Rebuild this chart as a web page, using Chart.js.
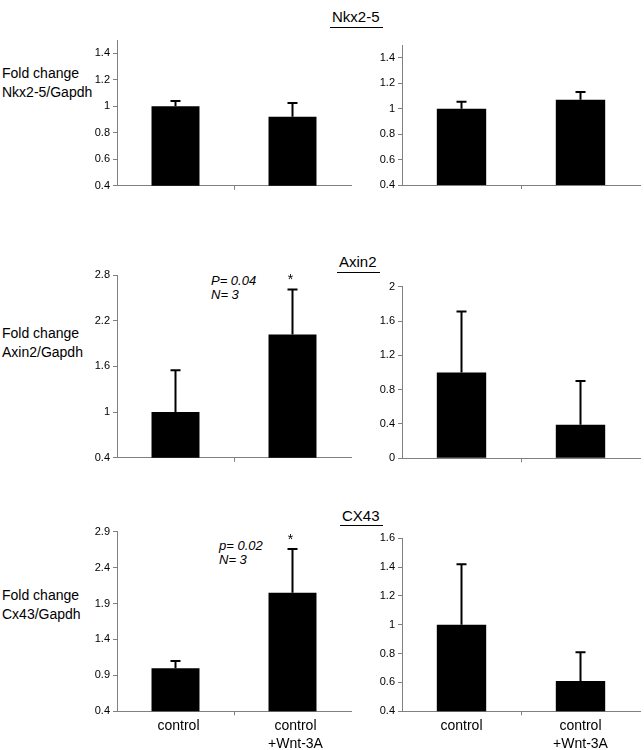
<!DOCTYPE html>
<html>
<head>
<meta charset="utf-8">
<script src="https://cdn.jsdelivr.net/npm/chart.js@4.4.1/dist/chart.umd.min.js"></script>
<style>
  body { margin: 0; background: #fff; font-family: "Liberation Sans", Arial, sans-serif; }
  #wrap { position: relative; width: 644px; height: 750px; overflow: hidden; }
  canvas { position: absolute; left: 0; top: 0; }
  .ylab { position: absolute; left: 2px; font-size: 14px; line-height: 18.5px; white-space: nowrap; }
  .title { position: absolute; font-size: 15px; line-height: 15px; padding: 0 3px 3px 2px; border-bottom: 1px solid #000; }
  .note { position: absolute; font-size: 13px; line-height: 14px; font-style: italic; white-space: nowrap; }
</style>
</head>
<body>
<div id="wrap">
  <div class="title" style="left:330px; top:9px;">Nkx2-5</div>
  <div class="title" style="left:337px; top:254px;">Axin2</div>
  <div class="title" style="left:340px; top:508px; padding-bottom:2px;">CX43</div>

  <div class="ylab" style="top:64px;">Fold change<br>Nkx2-5/Gapdh</div>
  <div class="ylab" style="top:324px;">Fold change<br>Axin2/Gapdh</div>
  <div class="ylab" style="top:586px;">Fold change<br>Cx43/Gapdh</div>

  <div class="note" style="left:211px; top:274px;">P= 0.04<br>N= 3</div>
  <div class="note" style="left:219px; top:539px;">p= 0.02<br>N= 3</div>
</div>

<script>
// categories
const groups = ["control", ["control", "+Wnt-3A"]];

// Nkx2-5
const nkxLeftMeans = [1.0, 0.92];
const nkxLeftErrors = [0.04, 0.105];
const nkxLeftTicks = [0.4, 0.6, 0.8, 1, 1.2, 1.4];
const nkxRightMeans = [1.0, 1.07];
const nkxRightErrors = [0.055, 0.06];
const nkxRightTicks = [0.4, 0.6, 0.8, 1, 1.2, 1.4];

// Axin2
const axinLeftMeans = [1.0, 2.02];
const axinLeftErrors = [0.55, 0.59];
const axinLeftTicks = [0.4, 1, 1.6, 2.2, 2.8];
const axinRightMeans = [1.0, 0.39];
const axinRightErrors = [0.71, 0.51];
const axinRightTicks = [0, 0.4, 0.8, 1.2, 1.6, 2];

// CX43
const cxLeftMeans = [1.0, 2.05];
const cxLeftErrors = [0.10, 0.61];
const cxLeftTicks = [0.4, 0.9, 1.4, 1.9, 2.4, 2.9];
const cxRightMeans = [1.0, 0.61];
const cxRightErrors = [0.42, 0.20];
const cxRightTicks = [0.4, 0.6, 0.8, 1, 1.2, 1.4, 1.6];

// significance marks
const axinLeftStars = [false, true];
const cxLeftStars = [false, true];

const grey = "#808080";
Chart.defaults.font.family = '"Liberation Sans", Arial, sans-serif';
Chart.defaults.color = "#000";

// draws the error bars (and the asterisk) from the y scale
const errorBarPlugin = {
  id: "errorBars",
  afterDatasetsDraw(chart, args, opts) {
    const ctx = chart.ctx;
    const y = chart.scales.y;
    const values = chart.data.datasets[0].data;
    ctx.save();
    ctx.strokeStyle = "#000";
    ctx.fillStyle = "#000";
    ctx.lineWidth = 2;
    ctx.font = '14px "Liberation Sans", Arial, sans-serif';
    ctx.textAlign = "center";
    chart.getDatasetMeta(0).data.forEach((bar, i) => {
      const top = y.getPixelForValue(values[i] + opts.errors[i]);
      ctx.beginPath();
      ctx.moveTo(bar.x, bar.y);
      ctx.lineTo(bar.x, top);
      ctx.moveTo(bar.x - 5, top);
      ctx.lineTo(bar.x + 5, top);
      ctx.stroke();
      if (opts.stars && opts.stars[i]) {
        ctx.fillText("*", bar.x - 2, top - 5);
      }
    });
    ctx.restore();
  }
};

const panels = [
  { means: nkxLeftMeans, errors: nkxLeftErrors, ticks: nkxLeftTicks, min: 0.4, max: 1.5,
    l: 117, r: 351, t: 40, b: 185.7, bar: 0.41, showX: false },
  { means: nkxRightMeans, errors: nkxRightErrors, ticks: nkxRightTicks, min: 0.4, max: 1.5,
    l: 402, r: 640, t: 45, b: 185, bar: 0.415, showX: false },
  { means: axinLeftMeans, errors: axinLeftErrors, ticks: axinLeftTicks, min: 0.4, max: 2.8,
    l: 117, r: 351, t: 275, b: 457.7, bar: 0.41, showX: false, stars: axinLeftStars },
  { means: axinRightMeans, errors: axinRightErrors, ticks: axinRightTicks, min: 0, max: 2,
    l: 402, r: 640, t: 286.7, b: 458.3, bar: 0.415, showX: false },
  { means: cxLeftMeans, errors: cxLeftErrors, ticks: cxLeftTicks, min: 0.4, max: 2.9,
    l: 117, r: 351, t: 531.7, b: 711.3, bar: 0.41, showX: true, stars: cxLeftStars, shift: 3 },
  { means: cxRightMeans, errors: cxRightErrors, ticks: cxRightTicks, min: 0.4, max: 1.6,
    l: 402, r: 640, t: 538.3, b: 711.3, bar: 0.415, showX: true, shift: 0 }
];

const wrap = document.getElementById("wrap");

panels.forEach(p => {
  const canvas = document.createElement("canvas");
  canvas.width = 644;
  canvas.height = 750;
  wrap.appendChild(canvas);

  new Chart(canvas, {
    type: "bar",
    data: {
      labels: groups,
      datasets: [{
        data: p.means,
        backgroundColor: "#000",
        barPercentage: p.bar,
        categoryPercentage: 1
      }]
    },
    options: {
      responsive: false,
      animation: false,
      events: [],
      layout: {
        padding: { left: p.l - 40, top: p.t, right: 644 - p.r, bottom: 750 - p.b - 40 }
      },
      plugins: {
        legend: { display: false },
        tooltip: { enabled: false },
        errorBars: { errors: p.errors, stars: p.stars || [] }
      },
      scales: {
        x: {
          border: { color: grey, width: 1 },
          grid: {
            drawOnChartArea: false,
            tickLength: 4,
            color: ctx => ctx.index === 1 ? grey : "rgba(0,0,0,0)"
          },
          ticks: {
            display: p.showX,
            font: { size: 14, lineHeight: 1.3 },
            padding: 2,
            maxRotation: 0,
            labelOffset: p.shift || 0
          },
          afterFit: s => { s.height = 40; }
        },
        y: {
          min: p.min,
          max: p.max,
          border: { color: grey, width: 1 },
          grid: { drawOnChartArea: false, tickLength: 4, color: grey },
          ticks: { font: { size: 11 }, padding: 3, callback: v => String(v) },
          afterBuildTicks: s => { s.ticks = p.ticks.map(v => ({ value: v })); },
          afterFit: s => { s.width = 40; }
        }
      }
    },
    plugins: [errorBarPlugin]
  });
});
</script>
</body>
</html>
